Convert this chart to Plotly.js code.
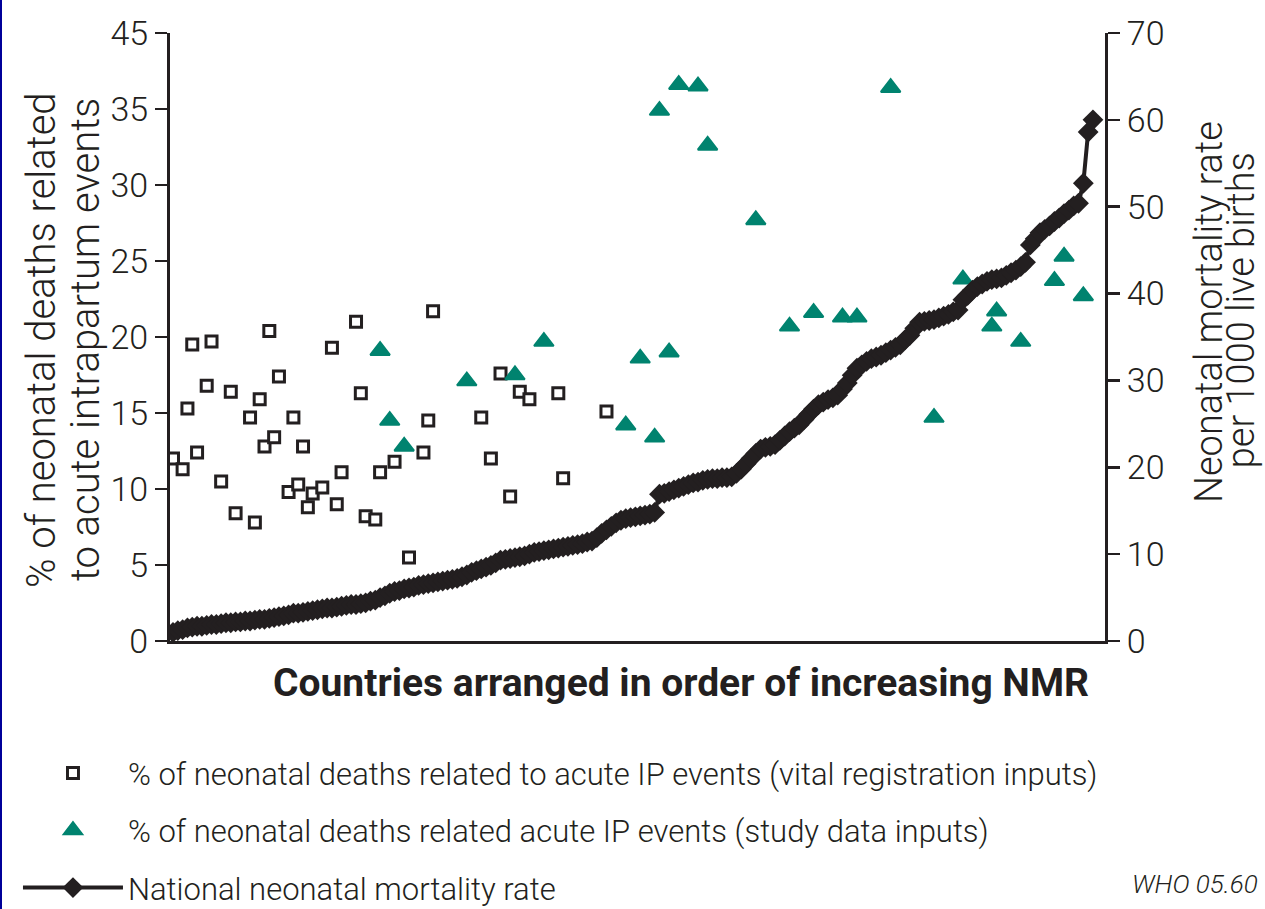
<!DOCTYPE html>
<html>
<head>
<meta charset="utf-8">
<script src="https://cdn.plot.ly/plotly-3.0.1.min.js"></script>
<style>
  html, body { margin: 0; padding: 0; background: #ffffff; }
  #chart { width: 1265px; height: 909px; }
  #edge { position: absolute; left: 0; top: 0; width: 2px; height: 909px; background: #000099; }
</style>
</head>
<body>
<div id="chart"></div>
<div id="edge"></div>
<script>
// National neonatal mortality rate (per 1000 live births), countries ranked from lowest to highest
const nmrRate = [
  1.0, 1.2, 1.3, 1.5, 1.6, 1.7, 1.7, 1.8, 1.9, 1.9,
  2.0, 2.1, 2.1, 2.2, 2.2, 2.3, 2.3, 2.4, 2.5, 2.5,
  2.6, 2.7, 2.8, 2.9, 3.0, 3.2, 3.2, 3.3, 3.4, 3.5,
  3.6, 3.7, 3.8, 3.8, 3.9, 4.0, 4.1, 4.2, 4.2, 4.3,
  4.4, 4.6, 4.7, 5.0, 5.2, 5.5, 5.7, 5.8, 6.0, 6.1,
  6.2, 6.4, 6.5, 6.6, 6.7, 6.8, 6.9, 7.0, 7.1, 7.2,
  7.4, 7.6, 7.9, 8.1, 8.3, 8.5, 8.7, 9.0, 9.3, 9.4,
  9.5, 9.6, 9.7, 9.8, 10.0, 10.2, 10.3, 10.4, 10.5, 10.6,
  10.7, 10.8, 10.9, 11.0, 11.1, 11.2, 11.4, 11.5, 11.9, 12.4,
  12.8, 13.2, 13.6, 13.9, 14.1, 14.2, 14.3, 14.4, 14.5, 14.6,
  14.8, 16.9, 17.0, 17.2, 17.4, 17.6, 17.8, 18.0, 18.2, 18.3,
  18.5, 18.6, 18.7, 18.7, 18.8, 18.8, 18.9, 19.3, 19.8, 20.4,
  21.0, 21.6, 22.1, 22.3, 22.4, 22.6, 23.1, 23.6, 24.1, 24.5,
  24.9, 25.5, 26.1, 26.7, 27.2, 27.5, 27.8, 28.0, 28.3, 29.0,
  29.7, 30.6, 31.4, 31.8, 32.2, 32.5, 32.7, 32.9, 33.2, 33.5,
  33.8, 34.1, 34.7, 35.2, 36.0, 36.7, 36.8, 36.9, 37.0, 37.2,
  37.4, 37.6, 37.9, 38.1, 39.3, 39.8, 40.4, 40.8, 41.1, 41.4,
  41.6, 41.7, 41.8, 42.1, 42.4, 42.7, 43.1, 43.6, 45.6, 46.3,
  47.0, 47.4, 47.8, 48.3, 48.7, 49.2, 49.6, 50.1, 50.4, 52.7,
  58.6, 60.0
];
// Rank position of each country along the horizontal axis
const countryRank = nmrRate.map((v, i) => i);

// % of neonatal deaths related to acute intrapartum events, vital registration inputs
const vitalRegRank = [0, 2, 3, 4, 5, 7, 8, 10, 12, 13, 16, 17, 18, 19, 20, 21, 22, 24, 25, 26,
  27, 28, 29, 31, 33, 34, 35, 38, 39, 40, 42, 43, 46, 49, 52, 53, 54, 64, 66, 68,
  70, 72, 74, 80, 81, 90];
const vitalRegPct = [12.0, 11.3, 15.3, 19.5, 12.4, 16.8, 19.7, 10.5, 16.4, 8.4, 14.7, 7.8, 15.9, 12.8, 20.4, 13.4, 17.4, 9.8, 14.7, 10.3,
  12.8, 8.8, 9.7, 10.1, 19.3, 9.0, 11.1, 21.0, 16.3, 8.2, 8.0, 11.1, 11.8, 5.5, 12.4, 14.5, 21.7, 14.7, 12.0, 17.6,
  9.5, 16.4, 15.9, 16.3, 10.7, 15.1];

// % of neonatal deaths related to acute intrapartum events, study data inputs
const studyRank = [43, 45, 48, 61, 71, 77, 94, 97, 100, 101, 103, 105, 109, 111, 121, 128, 133, 139, 142, 149,
  158, 164, 170, 171, 176, 183, 185, 189];
const studyPct = [19.1, 14.5, 12.8, 17.1, 17.5, 19.7, 14.2, 18.6, 13.4, 34.9, 19.0, 36.6, 36.5, 32.6, 27.7, 20.7, 21.6, 21.3, 21.3, 36.4,
  14.7, 23.8, 20.7, 21.7, 19.7, 23.7, 25.3, 22.7];

// Axis tick values and their printed labels
const pctTickVals = [0, 5, 10, 15, 20, 25, 30, 35, 40];
const pctTickText = ['0', '5', '10', '15', '20', '25', '30', '35', '45'];
const nmrTickVals = [0, 10, 20, 30, 40, 50, 60, 70];

const INK = '#231f20';
const TEAL = '#00836f';
const FONT = 'Roboto, "Liberation Sans", Arial, sans-serif';

const traces = [
  {
    name: '% of neonatal deaths related to acute IP events (vital registration inputs)',
    legendgroup: 'vr',
    x: vitalRegRank, y: vitalRegPct,
    xaxis: 'x', yaxis: 'y',
    type: 'scatter', mode: 'markers',
    marker: { symbol: 'square', size: 11, color: '#ffffff', line: { color: INK, width: 3 } },
    hoverinfo: 'skip'
  },
  {
    name: '% of neonatal deaths related acute IP events (study data inputs)',
    legendgroup: 'study',
    x: studyRank, y: studyPct,
    xaxis: 'x', yaxis: 'y',
    type: 'scatter', mode: 'markers',
    marker: { symbol: 'triangle-up', size: 17, color: TEAL, line: { color: TEAL, width: 2 } },
    hoverinfo: 'skip'
  },
  {
    name: 'National neonatal mortality rate',
    legendgroup: 'nmr',
    x: countryRank, y: nmrRate,
    xaxis: 'x', yaxis: 'y2',
    type: 'scatter', mode: 'lines+markers',
    line: { color: INK, width: 4 },
    marker: { symbol: 'diamond', size: 16, color: INK },
    hoverinfo: 'skip'
  }
];

const tickStyle = {
  ticks: 'outside', ticklen: 12, tickwidth: 2.5, tickcolor: INK,
  showline: true, linewidth: 3, linecolor: INK,
  showgrid: false, zeroline: false,
  tickfont: { family: FONT, size: 34, color: INK, weight: 300 },
  fixedrange: true
};

// Rotated axis titles, one annotation per line
function sideTitle(text, x, y, size) {
  return {
    text: text, xref: 'paper', yref: 'paper', x: x, y: y,
    xanchor: 'center', yanchor: 'middle', showarrow: false, textangle: -90,
    font: { family: FONT, size: size, color: INK, weight: 300 }
  };
}

const layout = {
  width: 1265, height: 909,
  margin: { l: 170, r: 160, t: 33, b: 268, pad: 0, autoexpand: false },
  paper_bgcolor: '#ffffff', plot_bgcolor: '#ffffff',
  font: { family: FONT, color: INK },
  showlegend: true,
  legend: {
    x: -0.1626, y: -0.1732, xanchor: 'left', yanchor: 'top',
    orientation: 'v', traceorder: 'grouped', tracegroupgap: 14,
    itemwidth: 100, bgcolor: 'rgba(0,0,0,0)',
    font: { family: FONT, size: 31, color: INK, weight: 300 }
  },
  xaxis: {
    range: [-0.62, 193.5], showgrid: false, zeroline: false,
    showticklabels: false, ticks: '', showline: true, linewidth: 3, linecolor: INK,
    fixedrange: true
  },
  yaxis: Object.assign({}, tickStyle, {
    range: [0, 40], tickmode: 'array', tickvals: pctTickVals, ticktext: pctTickText
  }),
  yaxis2: Object.assign({}, tickStyle, {
    overlaying: 'y', side: 'right', anchor: 'x',
    range: [0, 70], tickmode: 'array', tickvals: nmrTickVals
  }),
  annotations: [
    {
      text: 'Countries arranged in order of increasing NMR',
      xref: 'paper', yref: 'paper', x: 0.5465, y: -0.069,
      xanchor: 'center', yanchor: 'middle', showarrow: false,
      font: { family: FONT, size: 39, color: INK, weight: 700 }
    },
    sideTitle('% of neonatal deaths related', -0.138, 0.495, 40),
    sideTitle('to acute intrapartum events', -0.0909, 0.495, 40),
    sideTitle('Neonatal mortality rate', 1.1112, 0.541, 38),
    sideTitle('per 1000 live births', 1.1455, 0.544, 38),
    {
      text: 'WHO 05.60',
      xref: 'paper', yref: 'paper', x: 1.1658, y: -0.3997,
      xanchor: 'right', yanchor: 'middle', showarrow: false,
      font: { family: FONT, size: 26, color: INK, style: 'italic', weight: 300 }
    }
  ]
};

Plotly.newPlot('chart', traces, layout, { displayModeBar: false, staticPlot: true });
</script>
</body>
</html>
